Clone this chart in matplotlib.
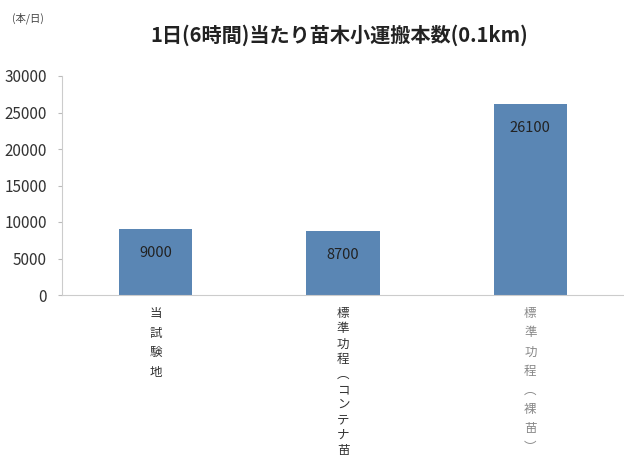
import matplotlib.pyplot as plt

plt.rcParams['font.family'] = ['Noto Sans CJK JP', 'DejaVu Sans']

# データ
categories = ['当試験地', '標準功程︵コンテナ苗', '標準功程︵裸苗︶']
values = [9000, 8700, 26100]
yticks = [0, 5000, 10000, 15000, 20000, 25000, 30000]

fig = plt.figure(figsize=(6.24, 4.66), dpi=100)
ax = fig.add_axes([62/624, 1-295/466, 562/624, 219/466])

x = range(len(categories))
ax.bar(x, values, width=0.39, color='#5a86b4')
for i, v in enumerate(values):
    ax.annotate(str(v), (i, v), xytext=(0, -17), textcoords='offset points',
                ha='center', va='center', fontsize=10.5, color='#222222')

ax.set_xlim(-0.5, 2.5)
ax.set_ylim(0, 30000)
ax.set_yticks(yticks)
ax.set_yticklabels([str(t) for t in yticks], fontsize=11, color='#333333')
ax.tick_params(axis='y', length=3, color='#bbbbbb', pad=8)
ax.set_xticks([])
for s in ['top', 'right']:
    ax.spines[s].set_visible(False)
ax.spines['left'].set_color('#cccccc')
ax.spines['bottom'].set_color('#cccccc')

# 縦書きラベル
spacing = [1.65, 1.22, 1.62]
colors = ['#333333', '#333333', '#888888']
for i, lab in enumerate(categories):
    ax.text(i, -0.055, '\n'.join(lab), transform=ax.get_xaxis_transform(),
            ha='center', va='top', fontsize=9, color=colors[i],
            linespacing=spacing[i])

fig.text(339/624, 1-35/466, '1日(6時間)当たり苗木小運搬本数(0.1km)',
         ha='center', va='center', fontsize=14.5, fontweight='bold', color='#222222')
fig.text(12/624, 1-18/466, '(本/日)', ha='left', va='center', fontsize=7.5, color='#444444')

fig.savefig('out.png')
